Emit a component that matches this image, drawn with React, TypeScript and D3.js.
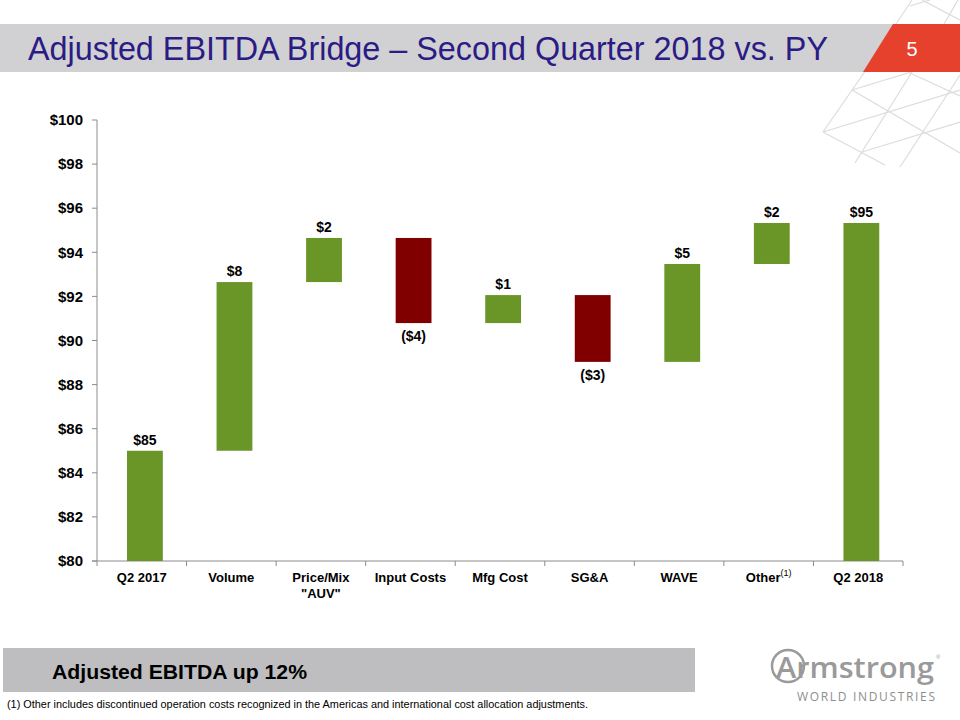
import { useEffect, useRef } from "react";
import * as d3 from "d3";

// bridge steps, first and last are totals
const categories = ["Q2 2017", "Volume", "Price/Mix\n\"AUV\"", "Input Costs", "Mfg Cost", "SG&A", "WAVE", "Other", "Q2 2018"];
const startValue = 85.0;
const deltas = [7.65, 2.0, -3.86, 1.27, -3.03, 4.44, 1.86];
const valueLabels = ["$85", "$8", "$2", "($4)", "$1", "($3)", "$5", "$2", "$95"];
const yTicks = [80, 82, 84, 86, 88, 90, 92, 94, 96, 98, 100];

const GREEN = "#6A9628";
const RED = "#800000";
const FONT = "'Liberation Sans', Arial, sans-serif";

// decorative lattice in the top right corner
const lattice: [number, number, number, number][] = [
  [823, 132, 960, 90],
  [852, 90, 960, 57],
  [862, 152, 960, 122],
  [823, 132, 885, 165],
  [852, 90, 960, 153],
  [910, 73, 960, 96],
  [922, 0, 960, 20],
  [912, 72, 855, 163],
  [960, 75, 900, 167],
  [866, 70, 823, 132],
  [912, 0, 896, 24],
  [958, 0, 944, 24],
  [910, 6, 930, 0],
];

export default function App() {
  const svgRef = useRef<SVGSVGElement>(null);

  useEffect(() => {
    if (!svgRef.current) return;
    const svg = d3.select(svgRef.current);
    svg.selectAll("*").remove();

    // background decor
    svg
      .append("g")
      .selectAll("line")
      .data(lattice)
      .enter()
      .append("line")
      .attr("x1", (d) => d[0])
      .attr("y1", (d) => d[1])
      .attr("x2", (d) => d[2])
      .attr("y2", (d) => d[3])
      .attr("stroke", "#dcdcdc")
      .attr("stroke-width", 1.2);

    // title banner
    svg.append("rect").attr("x", 0).attr("y", 24).attr("width", 900).attr("height", 48).attr("fill", "#D1D1D3");
    svg.append("polygon").attr("points", "893,24 960,24 960,72 863,72").attr("fill", "#E5412D");
    svg
      .append("text")
      .attr("x", 28)
      .attr("y", 60)
      .attr("fill", "#2B1B84")
      .attr("textLength", 800)
      .attr("lengthAdjust", "spacingAndGlyphs")
      .style("font-family", FONT)
      .style("font-size", "33px")
      .text("Adjusted EBITDA Bridge – Second Quarter 2018 vs. PY");
    svg
      .append("text")
      .attr("x", 912)
      .attr("y", 56)
      .attr("text-anchor", "middle")
      .attr("fill", "#ffffff")
      .style("font-family", FONT)
      .style("font-size", "20px")
      .text("5");

    // scales
    const x = d3.scaleBand().domain(categories).range([97, 903]).padding(0);
    const y = d3.scaleLinear().domain([80, 100]).range([561, 120]);
    const bw = x.bandwidth();

    // waterfall steps
    const steps: { cat: string; y0: number; y1: number; color: string; label: string; neg: boolean }[] = [];
    let run = startValue;
    steps.push({ cat: categories[0], y0: 80, y1: startValue, color: GREEN, label: valueLabels[0], neg: false });
    deltas.forEach((d, i) => {
      const next = run + d;
      steps.push({ cat: categories[i + 1], y0: run, y1: next, color: d >= 0 ? GREEN : RED, label: valueLabels[i + 1], neg: d < 0 });
      run = next;
    });
    steps.push({ cat: categories[categories.length - 1], y0: 80, y1: run, color: GREEN, label: valueLabels[valueLabels.length - 1], neg: false });

    const g = svg.append("g");

    // axes
    g.append("line").attr("x1", 97).attr("x2", 97).attr("y1", y(100)).attr("y2", y(80)).attr("stroke", "#8c8c8c");
    g.append("line").attr("x1", 92).attr("x2", 903).attr("y1", y(80)).attr("y2", y(80)).attr("stroke", "#8c8c8c");
    g.selectAll("line.ytick")
      .data(yTicks)
      .enter()
      .append("line")
      .attr("class", "ytick")
      .attr("x1", 92)
      .attr("x2", 97)
      .attr("y1", (d) => y(d))
      .attr("y2", (d) => y(d))
      .attr("stroke", "#8c8c8c");
    g.selectAll("text.ylab")
      .data(yTicks)
      .enter()
      .append("text")
      .attr("class", "ylab")
      .attr("x", 83)
      .attr("y", (d) => y(d))
      .attr("dy", "0.35em")
      .attr("text-anchor", "end")
      .style("font-family", FONT)
      .style("font-size", "15px")
      .style("font-weight", "bold")
      .text((d) => `$${d}`);

    const bounds = categories.map((c) => x(c) as number).concat([903]);
    g.selectAll("line.xtick")
      .data(bounds)
      .enter()
      .append("line")
      .attr("class", "xtick")
      .attr("x1", (d) => d)
      .attr("x2", (d) => d)
      .attr("y1", y(80))
      .attr("y2", y(80) + 5)
      .attr("stroke", "#8c8c8c");

    // x labels
    const xl = g
      .selectAll("text.xlab")
      .data(categories)
      .enter()
      .append("text")
      .attr("class", "xlab")
      .attr("x", (d) => (x(d) as number) + bw / 2)
      .attr("y", 582)
      .attr("text-anchor", "middle")
      .style("font-family", FONT)
      .style("font-size", "13px")
      .style("font-weight", "bold");
    xl.each(function (d) {
      const t = d3.select(this);
      const parts = d.split("\n");
      parts.forEach((p, i) => {
        t.append("tspan")
          .attr("x", (x(d) as number) + bw / 2)
          .attr("dy", i === 0 ? 0 : 16)
          .text(p);
      });
      if (d === "Other") {
        t.append("tspan").attr("dy", -6).style("font-size", "9px").style("font-weight", "normal").text("(1)");
      }
    });

    // bars
    const barW = bw * 0.4;
    const barX = (c: string) => (x(c) as number) + bw * 0.335;
    g.selectAll("rect.bar")
      .data(steps)
      .enter()
      .append("rect")
      .attr("class", "bar")
      .attr("x", (d) => barX(d.cat))
      .attr("width", barW)
      .attr("y", (d) => y(Math.max(d.y0, d.y1)))
      .attr("height", (d) => Math.abs(y(d.y0) - y(d.y1)))
      .attr("fill", (d) => d.color);

    g.selectAll("text.val")
      .data(steps)
      .enter()
      .append("text")
      .attr("class", "val")
      .attr("x", (d) => barX(d.cat) + barW / 2)
      .attr("y", (d) => (d.neg ? y(Math.min(d.y0, d.y1)) + 18 : y(Math.max(d.y0, d.y1)) - 6))
      .attr("text-anchor", "middle")
      .style("font-family", FONT)
      .style("font-size", "14px")
      .style("font-weight", "bold")
      .text((d) => d.label);

    // bottom callout
    svg.append("rect").attr("x", 3).attr("y", 648).attr("width", 692).attr("height", 44).attr("fill", "#BEBEC0");
    svg
      .append("text")
      .attr("x", 52)
      .attr("y", 679)
      .attr("textLength", 255)
      .attr("lengthAdjust", "spacingAndGlyphs")
      .style("font-family", FONT)
      .style("font-size", "20px")
      .style("font-weight", "bold")
      .text("Adjusted EBITDA up 12%");
    svg
      .append("text")
      .attr("x", 7)
      .attr("y", 708)
      .attr("textLength", 581)
      .attr("lengthAdjust", "spacingAndGlyphs")
      .style("font-family", FONT)
      .style("font-size", "10.8px")
      .text("(1) Other includes discontinued operation costs recognized in the Americas and international cost allocation adjustments.");

    // logo
    const logo = svg.append("g").attr("fill", "#9a9a9a");
    logo.append("circle").attr("cx", 788).attr("cy", 666).attr("r", 16).attr("fill", "none").attr("stroke", "#9a9a9a").attr("stroke-width", 2.5);
    logo
      .append("text")
      .attr("x", 776)
      .attr("y", 678)
      .style("font-family", "'Open Sans', sans-serif")
      .style("font-size", "29px")
      .style("font-weight", "600")
      .attr("textLength", 158)
      .attr("lengthAdjust", "spacingAndGlyphs")
      .text("Armstrong");
    logo.append("text").attr("x", 936).attr("y", 659).style("font-family", FONT).style("font-size", "6px").text("®");
    logo
      .append("text")
      .attr("x", 797)
      .attr("y", 701)
      .attr("textLength", 138)
      .style("font-family", "'Open Sans', sans-serif")
      .style("font-size", "12px")
      .attr("fill", "#8e8e8e")
      .text("WORLD INDUSTRIES");
  }, []);

  return (
    <svg
      ref={svgRef}
      width={960}
      height={720}
      style={{ position: "absolute", left: 0, top: 0, background: "#ffffff" }}
    />
  );
}
